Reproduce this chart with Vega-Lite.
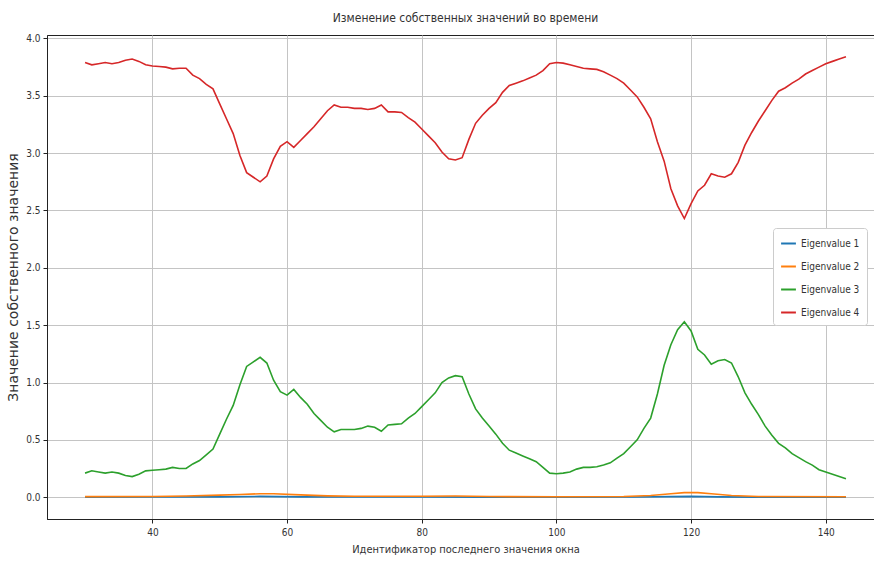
{
  "$schema": "https://vega.github.io/schema/vega-lite/v6.json",
  "autosize": "none",
  "padding": {"left": 47, "top": 35, "right": 0, "bottom": 46},
  "width": 837,
  "height": 484,
  "background": "white",
  "config": {
    "font": "DejaVu Sans",
    "view": {"stroke": "#222", "strokeWidth": 1},
    "axis": {
      "labelFont": "DejaVu Sans Condensed",
      "labelFontSize": 10,
      "labelColor": "#333",
      "titleFont": "DejaVu Sans Condensed",
      "titleFontSize": 11,
      "titleFontWeight": "normal",
      "titleColor": "#333",
      "domainColor": "#222",
      "tickColor": "#222",
      "tickSize": 4,
      "gridColor": "#c4c4c4",
      "gridWidth": 1
    }
  },
  "title": {
    "text": "Изменение собственных значений во времени",
    "font": "DejaVu Sans Condensed",
    "fontSize": 12,
    "fontWeight": "normal",
    "color": "#333",
    "anchor": "middle",
    "offset": 8
  },
  "datasets": {
    "e1": [
      {"x": 30, "v": 0.001}, {"x": 40, "v": 0.002}, {"x": 50, "v": 0.003}, {"x": 56, "v": 0.007},
      {"x": 62, "v": 0.003}, {"x": 70, "v": 0.002}, {"x": 80, "v": 0.002}, {"x": 90, "v": 0.001},
      {"x": 100, "v": 0.001}, {"x": 112, "v": 0.002}, {"x": 117, "v": 0.005}, {"x": 120, "v": 0.007},
      {"x": 124, "v": 0.003}, {"x": 130, "v": 0.001}, {"x": 143, "v": 0.001}
    ],
    "e2": [
      {"x": 30, "v": 0.005}, {"x": 40, "v": 0.006}, {"x": 45, "v": 0.01}, {"x": 50, "v": 0.018},
      {"x": 53, "v": 0.024}, {"x": 56, "v": 0.03}, {"x": 58, "v": 0.03}, {"x": 62, "v": 0.02},
      {"x": 66, "v": 0.012}, {"x": 70, "v": 0.008}, {"x": 80, "v": 0.008}, {"x": 85, "v": 0.01},
      {"x": 90, "v": 0.006}, {"x": 100, "v": 0.004}, {"x": 110, "v": 0.006}, {"x": 114, "v": 0.015},
      {"x": 117, "v": 0.03}, {"x": 119, "v": 0.04}, {"x": 121, "v": 0.04}, {"x": 123, "v": 0.03},
      {"x": 126, "v": 0.015}, {"x": 130, "v": 0.006}, {"x": 143, "v": 0.004}
    ],
    "e3": [
      {"x": 30, "v": 0.21}, {"x": 31, "v": 0.23}, {"x": 32, "v": 0.22}, {"x": 33, "v": 0.21}, {"x": 34, "v": 0.22},
      {"x": 35, "v": 0.21}, {"x": 36, "v": 0.19}, {"x": 37, "v": 0.18}, {"x": 38, "v": 0.2}, {"x": 39, "v": 0.23},
      {"x": 40, "v": 0.235}, {"x": 41, "v": 0.24}, {"x": 42, "v": 0.245}, {"x": 43, "v": 0.26}, {"x": 44, "v": 0.25},
      {"x": 45, "v": 0.25}, {"x": 46, "v": 0.29}, {"x": 47, "v": 0.32}, {"x": 48, "v": 0.37}, {"x": 49, "v": 0.42},
      {"x": 50, "v": 0.55}, {"x": 51, "v": 0.68}, {"x": 52, "v": 0.8}, {"x": 53, "v": 0.98}, {"x": 54, "v": 1.14},
      {"x": 55, "v": 1.18}, {"x": 56, "v": 1.22}, {"x": 57, "v": 1.17}, {"x": 58, "v": 1.02}, {"x": 59, "v": 0.92},
      {"x": 60, "v": 0.89}, {"x": 61, "v": 0.94}, {"x": 62, "v": 0.87}, {"x": 63, "v": 0.81}, {"x": 64, "v": 0.73},
      {"x": 65, "v": 0.67}, {"x": 66, "v": 0.61}, {"x": 67, "v": 0.57}, {"x": 68, "v": 0.59}, {"x": 69, "v": 0.59},
      {"x": 70, "v": 0.59}, {"x": 71, "v": 0.6}, {"x": 72, "v": 0.62}, {"x": 73, "v": 0.61}, {"x": 74, "v": 0.575},
      {"x": 75, "v": 0.63}, {"x": 76, "v": 0.635}, {"x": 77, "v": 0.64}, {"x": 78, "v": 0.69}, {"x": 79, "v": 0.73},
      {"x": 80, "v": 0.79}, {"x": 81, "v": 0.85}, {"x": 82, "v": 0.91}, {"x": 83, "v": 1.0}, {"x": 84, "v": 1.04},
      {"x": 85, "v": 1.06}, {"x": 86, "v": 1.05}, {"x": 87, "v": 0.9}, {"x": 88, "v": 0.77}, {"x": 89, "v": 0.69},
      {"x": 90, "v": 0.62}, {"x": 91, "v": 0.55}, {"x": 92, "v": 0.47}, {"x": 93, "v": 0.41}, {"x": 94, "v": 0.385},
      {"x": 95, "v": 0.36}, {"x": 96, "v": 0.335}, {"x": 97, "v": 0.31}, {"x": 98, "v": 0.26}, {"x": 99, "v": 0.21},
      {"x": 100, "v": 0.205}, {"x": 101, "v": 0.21}, {"x": 102, "v": 0.22}, {"x": 103, "v": 0.245}, {"x": 104, "v": 0.26},
      {"x": 105, "v": 0.26}, {"x": 106, "v": 0.265}, {"x": 107, "v": 0.28}, {"x": 108, "v": 0.3}, {"x": 109, "v": 0.34},
      {"x": 110, "v": 0.38}, {"x": 111, "v": 0.44}, {"x": 112, "v": 0.5}, {"x": 113, "v": 0.6}, {"x": 114, "v": 0.69},
      {"x": 115, "v": 0.9}, {"x": 116, "v": 1.15}, {"x": 117, "v": 1.33}, {"x": 118, "v": 1.46}, {"x": 119, "v": 1.53},
      {"x": 120, "v": 1.45}, {"x": 121, "v": 1.29}, {"x": 122, "v": 1.24}, {"x": 123, "v": 1.16}, {"x": 124, "v": 1.19},
      {"x": 125, "v": 1.2}, {"x": 126, "v": 1.17}, {"x": 127, "v": 1.05}, {"x": 128, "v": 0.91}, {"x": 129, "v": 0.81},
      {"x": 130, "v": 0.72}, {"x": 131, "v": 0.62}, {"x": 132, "v": 0.54}, {"x": 133, "v": 0.47}, {"x": 134, "v": 0.43},
      {"x": 135, "v": 0.38}, {"x": 136, "v": 0.345}, {"x": 137, "v": 0.31}, {"x": 138, "v": 0.28}, {"x": 139, "v": 0.24},
      {"x": 140, "v": 0.22}, {"x": 141, "v": 0.2}, {"x": 142, "v": 0.18}, {"x": 143, "v": 0.16}
    ],
    "e4": [
      {"x": 30, "v": 3.79}, {"x": 31, "v": 3.77}, {"x": 32, "v": 3.78}, {"x": 33, "v": 3.79}, {"x": 34, "v": 3.78},
      {"x": 35, "v": 3.79}, {"x": 36, "v": 3.81}, {"x": 37, "v": 3.82}, {"x": 38, "v": 3.8}, {"x": 39, "v": 3.77},
      {"x": 40, "v": 3.76}, {"x": 41, "v": 3.755}, {"x": 42, "v": 3.75}, {"x": 43, "v": 3.735}, {"x": 44, "v": 3.74},
      {"x": 45, "v": 3.74}, {"x": 46, "v": 3.68}, {"x": 47, "v": 3.65}, {"x": 48, "v": 3.6}, {"x": 49, "v": 3.56},
      {"x": 50, "v": 3.43}, {"x": 51, "v": 3.3}, {"x": 52, "v": 3.17}, {"x": 53, "v": 2.98}, {"x": 54, "v": 2.83},
      {"x": 55, "v": 2.79}, {"x": 56, "v": 2.75}, {"x": 57, "v": 2.8}, {"x": 58, "v": 2.95}, {"x": 59, "v": 3.06},
      {"x": 60, "v": 3.1}, {"x": 61, "v": 3.05}, {"x": 62, "v": 3.11}, {"x": 63, "v": 3.17}, {"x": 64, "v": 3.23},
      {"x": 65, "v": 3.3}, {"x": 66, "v": 3.37}, {"x": 67, "v": 3.42}, {"x": 68, "v": 3.4}, {"x": 69, "v": 3.4},
      {"x": 70, "v": 3.39}, {"x": 71, "v": 3.39}, {"x": 72, "v": 3.38}, {"x": 73, "v": 3.39}, {"x": 74, "v": 3.42},
      {"x": 75, "v": 3.36}, {"x": 76, "v": 3.36}, {"x": 77, "v": 3.355}, {"x": 78, "v": 3.31}, {"x": 79, "v": 3.27},
      {"x": 80, "v": 3.21}, {"x": 81, "v": 3.15}, {"x": 82, "v": 3.09}, {"x": 83, "v": 3.01}, {"x": 84, "v": 2.95},
      {"x": 85, "v": 2.94}, {"x": 86, "v": 2.96}, {"x": 87, "v": 3.12}, {"x": 88, "v": 3.26}, {"x": 89, "v": 3.33},
      {"x": 90, "v": 3.39}, {"x": 91, "v": 3.44}, {"x": 92, "v": 3.53}, {"x": 93, "v": 3.59}, {"x": 94, "v": 3.61},
      {"x": 95, "v": 3.63}, {"x": 96, "v": 3.655}, {"x": 97, "v": 3.68}, {"x": 98, "v": 3.72}, {"x": 99, "v": 3.78},
      {"x": 100, "v": 3.79}, {"x": 101, "v": 3.785}, {"x": 102, "v": 3.77}, {"x": 103, "v": 3.755}, {"x": 104, "v": 3.74},
      {"x": 105, "v": 3.735}, {"x": 106, "v": 3.73}, {"x": 107, "v": 3.71}, {"x": 108, "v": 3.68}, {"x": 109, "v": 3.65},
      {"x": 110, "v": 3.61}, {"x": 111, "v": 3.55}, {"x": 112, "v": 3.49}, {"x": 113, "v": 3.4}, {"x": 114, "v": 3.3},
      {"x": 115, "v": 3.1}, {"x": 116, "v": 2.93}, {"x": 117, "v": 2.69}, {"x": 118, "v": 2.54}, {"x": 119, "v": 2.43},
      {"x": 120, "v": 2.56}, {"x": 121, "v": 2.67}, {"x": 122, "v": 2.72}, {"x": 123, "v": 2.82}, {"x": 124, "v": 2.8},
      {"x": 125, "v": 2.79}, {"x": 126, "v": 2.82}, {"x": 127, "v": 2.92}, {"x": 128, "v": 3.07}, {"x": 129, "v": 3.18},
      {"x": 130, "v": 3.28}, {"x": 131, "v": 3.37}, {"x": 132, "v": 3.46}, {"x": 133, "v": 3.54}, {"x": 134, "v": 3.57},
      {"x": 135, "v": 3.61}, {"x": 136, "v": 3.645}, {"x": 137, "v": 3.69}, {"x": 138, "v": 3.72}, {"x": 139, "v": 3.75},
      {"x": 140, "v": 3.78}, {"x": 141, "v": 3.8}, {"x": 142, "v": 3.82}, {"x": 143, "v": 3.84}
    ]
  },
  "encoding": {
    "x": {
      "field": "x", "type": "quantitative",
      "scale": {"domain": [24.35, 148.65], "nice": false, "zero": false},
      "axis": {"values": [40, 60, 80, 100, 120, 140], "grid": true, "title": "Идентификатор последнего значения окна", "labelPadding": 4, "titlePadding": 6}
    },
    "y": {
      "field": "v", "type": "quantitative",
      "scale": {"domain": [-0.19, 4.03], "nice": false, "zero": false},
      "axis": {"values": [0, 0.5, 1, 1.5, 2, 2.5, 3, 3.5, 4], "format": ".1f", "grid": true, "title": "Значение собственного значения", "titleFont": "DejaVu Sans", "titleFontSize": 14, "labelPadding": 3, "titlePadding": 5}
    },
    "color": {
      "field": "s", "type": "nominal",
      "scale": {"domain": ["Eigenvalue 1", "Eigenvalue 2", "Eigenvalue 3", "Eigenvalue 4"], "range": ["#1f77b4", "#ff7f0e", "#2ca02c", "#d62728"]},
      "legend": {
        "title": null, "orient": "none", "legendX": 726, "legendY": 193,
        "symbolType": "stroke", "symbolSize": 220, "symbolStrokeWidth": 2,
        "labelFont": "DejaVu Sans Condensed", "labelFontSize": 10, "labelColor": "#333",
        "rowPadding": 9, "padding": 7,
        "strokeColor": "#cccccc", "fillColor": "white", "cornerRadius": 3
      }
    }
  },
  "layer": [
    {"data": {"name": "e1"}, "mark": {"type": "line", "strokeWidth": 1.6}, "encoding": {"color": {"datum": "Eigenvalue 1"}}},
    {"data": {"name": "e2"}, "mark": {"type": "line", "strokeWidth": 1.6}, "encoding": {"color": {"datum": "Eigenvalue 2"}}},
    {"data": {"name": "e3"}, "mark": {"type": "line", "strokeWidth": 1.6}, "encoding": {"color": {"datum": "Eigenvalue 3"}}},
    {"data": {"name": "e4"}, "mark": {"type": "line", "strokeWidth": 1.6}, "encoding": {"color": {"datum": "Eigenvalue 4"}}}
  ]
}
